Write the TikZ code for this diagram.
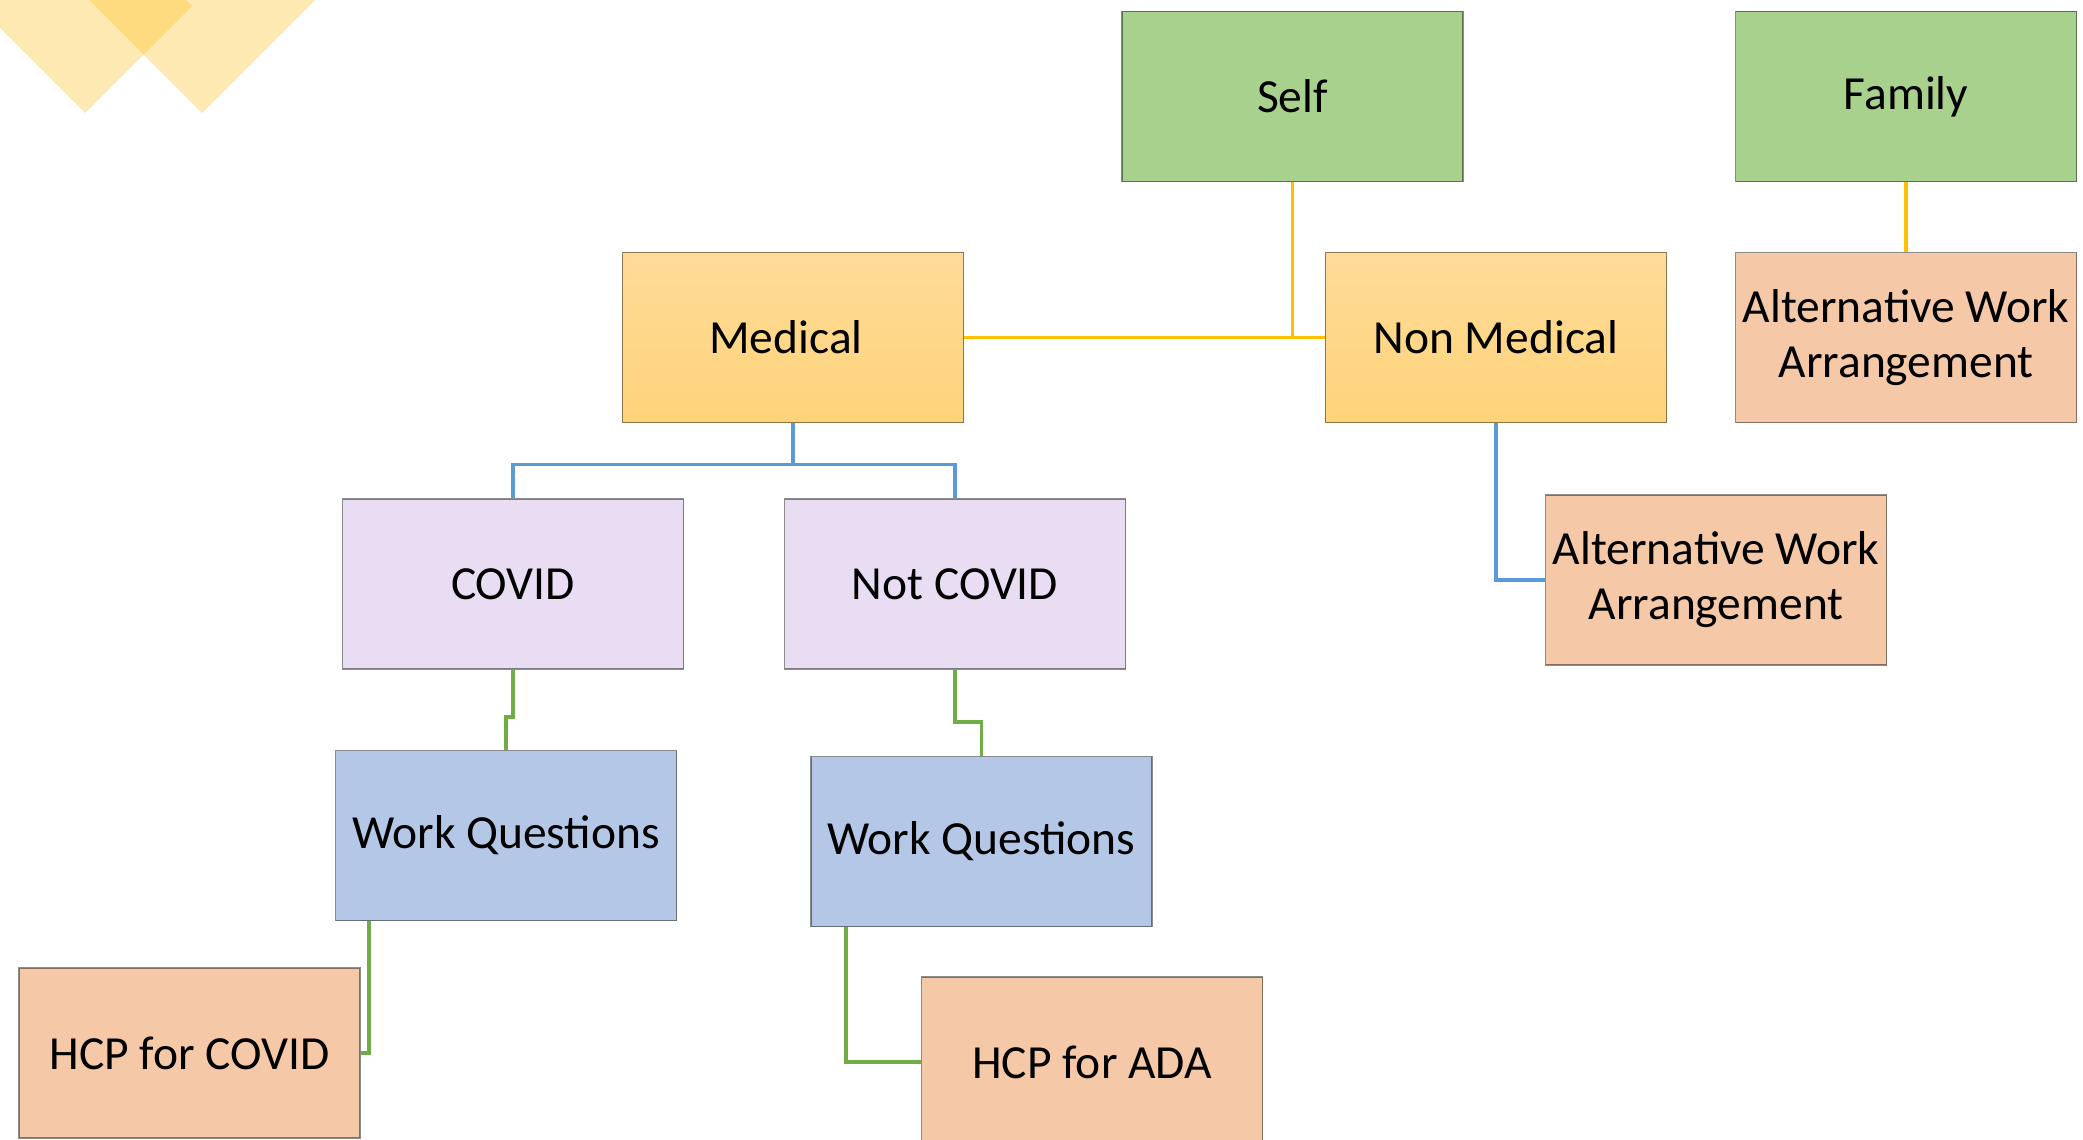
\documentclass[tikz,border=0pt]{standalone}
\usepackage{fontspec}
\setmainfont{Carlito}
\definecolor{gfill}{RGB}{169,209,142}
\definecolor{ytop}{RGB}{254,219,153}
\definecolor{ybot}{RGB}{255,211,121}
\definecolor{pfill}{RGB}{233,221,243}
\definecolor{bfill}{RGB}{180,199,231}
\definecolor{ofill}{RGB}{245,200,168}
\definecolor{cyel}{RGB}{255,192,0}
\definecolor{cblue}{RGB}{91,155,213}
\definecolor{cgreen}{RGB}{112,173,71}
\definecolor{deco}{RGB}{255,192,35}
\begin{document}
\begin{tikzpicture}[x=1pt,y=-1pt,
  box/.style={draw=black, draw opacity=0.45, line width=1.5pt, minimum width=341pt, minimum height=170pt,
    inner sep=0pt, align=center, font=\fontsize{47.5}{55}\selectfont},
  gbox/.style={box, fill=gfill},
  ybox/.style={box, top color=ytop, bottom color=ybot},
  lbox/.style={box, fill=pfill},
  bbox/.style={box, fill=bfill},
  obox/.style={box, fill=ofill},
  conn/.style={line width=3.5pt},
  yconn/.style={conn, draw=cyel},
  bconn/.style={conn, draw=cblue},
  gconn/.style={conn, draw=cgreen}]
\useasboundingbox (0,0) rectangle (2083,1140);
\clip (0,0) rectangle (2083,1140);
% decoration
\fill[deco, opacity=0.35] (85,-101) -- (192,6) -- (85,113) -- (-22,6) -- cycle;
\fill[deco, opacity=0.35] (202,-143) -- (330,-15) -- (202,113) -- (74,-15) -- cycle;
% nodes
\node[gbox] (self) at (1292.5,96.5) {Self};
\node[gbox] (family) at (1906,96.5) {Family};
\node[ybox] (med) at (793,337.5) {Medical\hspace{14pt}};
\node[ybox] (nonmed) at (1496,337.5) {Non Medical};
\node[obox] (altf) at (1906,337.5) {Alternative Work\\Arrangement};
\node[lbox] (covid) at (513,584) {COVID};
\node[lbox] (notcovid) at (955,584) {Not COVID};
\node[obox] (altnm) at (1716,580) {Alternative Work\\Arrangement};
\node[bbox] (wq1) at (506,835.5) {Work Questions};
\node[bbox] (wq2) at (981.5,841.5) {Work Questions};
\node[obox] (hcpc) at (189.5,1053) {HCP for COVID};
\node[obox] (hcpa) at (1092,1062) {HCP for ADA};
% connectors
\draw[yconn] (self.south) |- (med.east);
\draw[yconn] (self.south) |- (nonmed.west);
\draw[yconn] (family.south) -- (altf.north);
\draw[bconn] (med.south) -- ++(0,41) coordinate (mb) -| (covid.north);
\draw[bconn] (mb) -| (notcovid.north);
\draw[bconn] (nonmed.south) |- (altnm.west);
\draw[gconn] (covid.south) -- ++(0,47) -| (wq1.north);
\draw[gconn] (notcovid.south) -- ++(0,52) -| (wq2.north);
\draw[gconn] ([xshift=-137pt]wq1.south) |- (hcpc.east);
\draw[gconn] ([xshift=-135.5pt]wq2.south) |- (hcpa.west);
\end{tikzpicture}
\end{document}
